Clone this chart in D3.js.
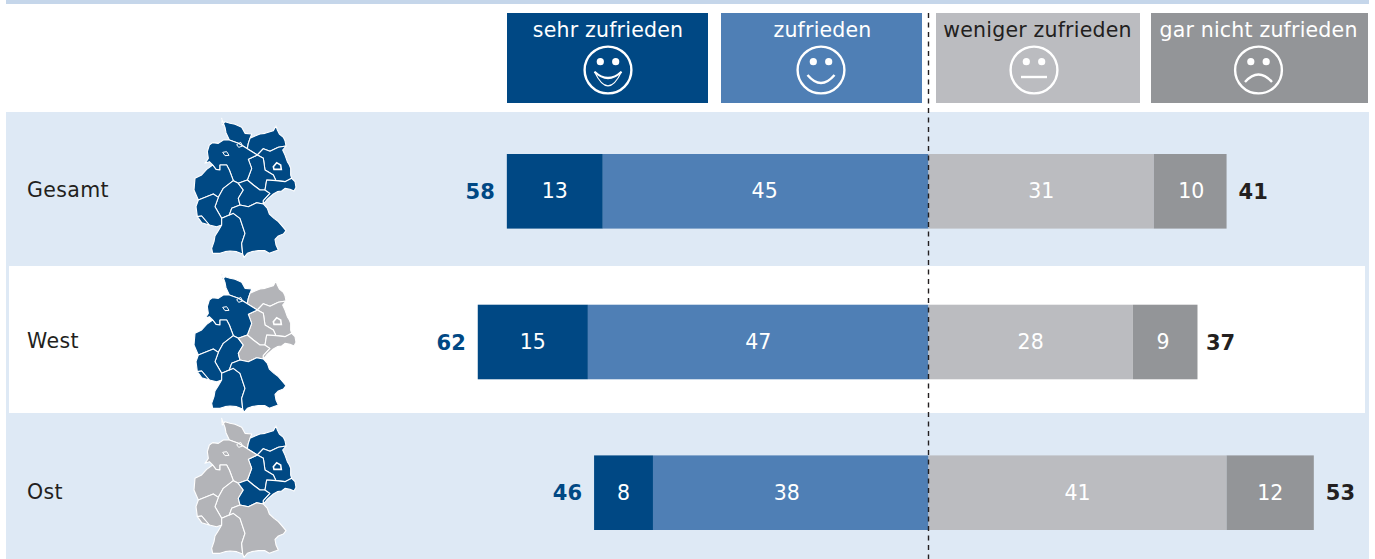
<!DOCTYPE html>
<html><head><meta charset="utf-8">
<script src="https://cdnjs.cloudflare.com/ajax/libs/d3/7.8.5/d3.min.js"></script>
<style>html,body{margin:0;padding:0;background:#fff}svg{display:block}text{font-family:"DejaVu Sans",Verdana,sans-serif}</style>
</head><body><svg id="c" width="1375" height="559"></svg>
<script>
// ---- data ----
const regions = ["Gesamt","West","Ost"];
const categories = ["sehr zufrieden","zufrieden","weniger zufrieden","gar nicht zufrieden"];
// shares; the printed labels are these, rounded
const sehrZufrieden = [13.2,15.15,8.1];
const zufrieden = [44.8,46.85,37.9];
const wenigerZufrieden = [31,28.1,41];
const garNichtZufrieden = [10,9,12];
const totalPositive = [58,62,46];
const totalNegative = [41,37,53];
const faces = ["laugh","smile","neutral","sad"];
const colors = ["#004884","#4f7fb5","#bbbcc0","#939598"];
const headerText = ["#ffffff","#ffffff","#231f20","#ffffff"];
// federal states, outlines in map units
const eastStates = ["MV","BB","ST","TH","SN"];
const states = {
 SH:[[155,25],[157,45],[165,35],[180,40],[195,43],[215,52],[225,70],[245,72],[240,85],[235,100],[232,116],[225,112],[205,100],[178,90],[168,68],[165,52]],
 MV:[[235,100],[240,85],[255,78],[270,72],[285,70],[300,65],[310,62],[318,48],[322,60],[328,72],[340,82],[345,92],[348,108],[325,112],[300,124],[280,116],[262,135],[232,116]],
 BB:[[262,135],[280,116],[300,124],[325,112],[348,108],[338,120],[345,135],[352,155],[358,165],[362,175],[362,195],[365,205],[345,215],[318,212],[310,195],[285,180],[280,145]],
 ST:[[262,135],[280,145],[285,180],[310,195],[318,212],[290,210],[285,240],[270,240],[250,225],[232,210],[245,175],[235,148]],
 NI:[[118,105],[128,98],[145,100],[160,90],[178,90],[205,100],[225,112],[232,116],[262,135],[235,148],[245,175],[232,210],[205,220],[190,212],[178,180],[170,165],[150,165],[150,180],[138,178],[128,165],[118,155],[105,160],[115,145],[112,125]],
 NW:[[75,205],[95,195],[110,178],[128,165],[138,178],[150,180],[150,165],[170,165],[178,180],[190,212],[160,235],[145,262],[130,252],[85,270],[72,240]],
 HE:[[190,212],[205,220],[220,240],[205,265],[210,285],[185,295],[178,315],[155,325],[135,290],[145,262],[160,235]],
 TH:[[205,220],[232,210],[250,225],[270,240],[285,240],[300,250],[280,272],[280,282],[260,278],[235,290],[210,285],[205,265],[220,240]],
 SN:[[285,240],[290,210],[318,212],[345,215],[365,205],[375,215],[378,232],[372,243],[360,238],[345,235],[335,243],[322,245],[310,252],[298,262],[290,270],[280,282],[280,272],[300,250]],
 RP:[[85,270],[130,252],[145,262],[135,290],[155,325],[155,345],[140,350],[118,345],[95,318],[82,320],[78,290]],
 SL:[[82,320],[95,318],[118,345],[95,338]],
 BW:[[155,325],[178,315],[190,310],[210,325],[225,370],[215,400],[218,432],[200,425],[180,423],[165,425],[150,430],[128,430],[125,415],[132,395],[135,378],[145,362],[155,345]],
 BY:[[210,285],[235,290],[260,278],[280,282],[292,295],[298,312],[312,325],[325,335],[338,350],[348,362],[340,372],[325,378],[315,388],[318,405],[325,420],[310,425],[298,430],[285,422],[265,422],[245,425],[232,430],[222,442],[218,432],[215,400],[225,370],[210,325],[190,310],[178,315],[185,295]]
};
const berlin = [[310,170],[320,158],[332,165],[334,178],[312,178]];
const bremen = [[158,127],[170,125],[177,136],[165,137]];
const hamburg = [[200,104],[212,97],[218,108],[206,112]];
const mapTop = [110,265,410];
const mapInactive = "#b3b4b8";

// ---- drawing ----
const svg = d3.select("#c");
svg.append("defs").append("filter").attr("id","soft").append("feGaussianBlur").attr("stdDeviation",0.4);
const x = d3.scaleLinear().domain([-64,61]).range([928.5-64*7.27,928.5+61*7.27]);
const y = d3.scaleBand().domain(regions).range([154,530]).paddingInner(0.505).paddingOuter(0);
const fmt = d3.format(".0f");
// background
svg.append("rect").attr("x",6).attr("y",0).attr("width",1363).attr("height",4).attr("fill","#c5d6ea");
svg.append("rect").attr("x",6).attr("y",112).attr("width",1363).attr("height",447).attr("fill","#dee9f5");
svg.append("rect").attr("x",9).attr("y",266).attr("width",1356).attr("height",147).attr("fill","#fff");

// header
const hdrX = [[507,708],[721,922],[936,1140],[1151,1368]];
const hdrTextX = [608,822.5,1037.5,1258.5];
const faceX = [608,821,1034,1258.5];
const hdr = svg.selectAll(".h").data(categories).join("g").attr("class","h");
hdr.append("rect").attr("x",(d,i)=>hdrX[i][0]).attr("y",13).attr("width",(d,i)=>hdrX[i][1]-hdrX[i][0]).attr("height",90).attr("fill",(d,i)=>colors[i]);
hdr.append("text").attr("x",(d,i)=>hdrTextX[i]).attr("y",37).attr("text-anchor","middle").attr("font-size",20.5).attr("letter-spacing",0.2).attr("fill",(d,i)=>headerText[i]).text(d=>d);
hdr.each(function(d,i){
  const g=d3.select(this).append("g").attr("transform",`translate(${faceX[i]},70)`).attr("fill","none").attr("stroke","#fff").attr("stroke-width",2.4);
  g.append("circle").attr("r",23.4);
  [-7.7,7.7].forEach(dx=>g.append("circle").attr("cx",dx).attr("cy",-8.3).attr("r",3.6).attr("fill","#fff").attr("stroke","none"));
  const f=faces[i];
  if(f==="laugh"){g.append("path").attr("d","M-13.5,1.7 Q0,30 13.5,1.7").attr("stroke-width",1.1);g.append("path").attr("d","M-13.5,1.7 Q0,14.3 13.5,1.7").attr("stroke-width",2.2);}
  if(f==="smile")g.append("path").attr("d","M-13.5,5 Q0,21 13.5,5");
  if(f==="neutral")g.append("path").attr("d","M-13,7 L13,7");
  if(f==="sad")g.append("path").attr("d","M-13.5,12 Q0,-3 13.5,12");
});

// rows
const line=d3.line();
const zufriedenDx=[-1,0,-4], garDx=[1,-2,0], negDx=[0,-3.5,0];
regions.forEach((r,ri)=>{
  const g=svg.append("g");
  const cy=y(r)+y.bandwidth()/2;
  g.append("text").attr("x",27).attr("y",cy+6).attr("font-size",20.5).attr("letter-spacing",0.35).attr("fill","#231f20").text(r);
  // map
  const mx=d3.scaleLinear().domain([0,450]).range([170,320]);
  const my=d3.scaleLinear().domain([0,450]).range([mapTop[ri],mapTop[ri]+150]);
  const path=p=>line(p.map(q=>[mx(q[0]),my(q[1])]))+"Z";
  const active=k=>{const e=eastStates.includes(k);return r==="Gesamt"||(r==="West"&&!e)||(r==="Ost"&&e);};
  const m=g.append("g").attr("filter","url(#soft)");
  Object.keys(states).forEach(k=>m.append("path").attr("d",path(states[k])).attr("fill",active(k)?colors[0]:mapInactive).attr("stroke","#fff").attr("stroke-width",1.1).attr("stroke-linejoin","round"));
  [bremen,hamburg].forEach(p=>m.append("path").attr("d",path(p)).attr("fill","none").attr("stroke","#fff").attr("stroke-width",1));
  m.append("path").attr("d",path(berlin)).attr("fill",active("BB")?colors[0]:mapInactive).attr("stroke","#fff").attr("stroke-width",1.6);
  // bars
  const a=sehrZufrieden[ri],b=zufrieden[ri],c=wenigerZufrieden[ri],d=garNichtZufrieden[ri];
  const tp=totalPositive[ri], tn=totalNegative[ri];
  const segs=[[-tp,-b,fmt(a),0,0],[-b,0,fmt(b),1,zufriedenDx[ri]],[0,c,fmt(c),2,0],[c,tn,fmt(d),3,garDx[ri]]];
  segs.forEach(s=>{
    g.append("rect").attr("x",x(s[0])).attr("y",y(r)).attr("width",x(s[1])-x(s[0])).attr("height",y.bandwidth()).attr("fill",colors[s[3]]);
    g.append("text").attr("x",(x(s[0])+x(s[1]))/2+s[4]).attr("y",cy+7).attr("text-anchor","middle").attr("font-size",20.5).attr("fill","#fff").text(s[2]);
  });
  g.append("text").attr("x",x(-tp)-12).attr("y",cy+7.5).attr("text-anchor","end").attr("font-size",21).attr("font-weight","bold").attr("fill",colors[0]).text(tp);
  g.append("text").attr("x",x(tn)+12+negDx[ri]).attr("y",cy+7.5).attr("font-size",21).attr("font-weight","bold").attr("fill","#231f20").text(tn);
});
// zero line
svg.append("line").attr("x1",x(0)).attr("x2",x(0)).attr("y1",13).attr("y2",559).attr("stroke","#231f20").attr("stroke-width",1.4).attr("stroke-dasharray","5 4.5");
</script></body></html>
